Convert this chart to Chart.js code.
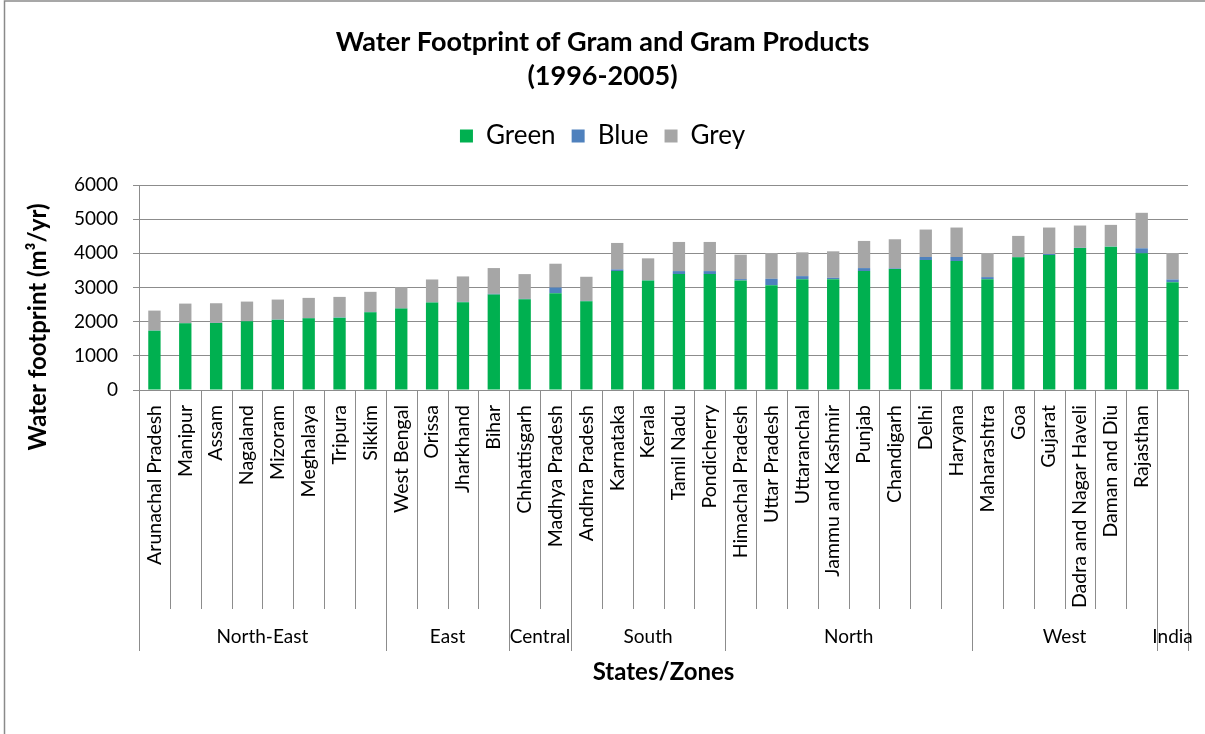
<!DOCTYPE html>
<html>
<head>
<meta charset="utf-8">
<title>Water Footprint of Gram and Gram Products</title>
<script src="https://cdn.jsdelivr.net/npm/chart.js@4.4.1/dist/chart.umd.min.js"></script>
<style>
  html, body { margin: 0; padding: 0; background: #ffffff; }
  #wrap { width: 1205px; height: 734px; position: relative; }
</style>
</head>
<body>
<div id="wrap"><canvas id="chart" width="1205" height="734"></canvas></div>
<script>
// States in zone order; the all-India bar carries no state name
const states = [
  'Arunachal Pradesh', 'Manipur', 'Assam', 'Nagaland', 'Mizoram', 'Meghalaya', 'Tripura', 'Sikkim',
  'West Bengal', 'Orissa', 'Jharkhand', 'Bihar',
  'Chhattisgarh', 'Madhya Pradesh',
  'Andhra Pradesh', 'Karnataka', 'Kerala', 'Tamil Nadu', 'Pondicherry',
  'Himachal Pradesh', 'Uttar Pradesh', 'Uttaranchal', 'Jammu and Kashmir', 'Punjab', 'Chandigarh', 'Delhi', 'Haryana',
  'Maharashtra', 'Goa', 'Gujarat', 'Dadra and Nagar Haveli', 'Daman and Diu', 'Rajasthan',
  ''
];

// Zones and how many states each one spans
const zones = ['North-East', 'East', 'Central', 'South', 'North', 'West', 'India'];
const zoneSizes = [8, 4, 2, 5, 8, 6, 1];

// Water footprint components (m3/yr)
const green = [
  1735, 1951, 1960, 2010, 2059, 2098, 2118, 2275,
  2382, 2559, 2569, 2794,
  2657, 2833,
  2598, 3480, 3206, 3392, 3392,
  3206, 3069, 3245, 3245, 3480, 3539, 3804, 3775,
  3245, 3882, 3951, 4157, 4196, 4000,
  3157
];
const blue = [
  5, 5, 5, 5, 5, 10, 10, 10,
  5, 5, 10, 20,
  10, 167,
  10, 50, 5, 88, 88,
  39, 186, 88, 39, 88, 20, 88, 118,
  59, 10, 29, 5, 5, 147,
  78
];
const grey = [
  584, 573, 574, 573, 583, 588, 597, 588,
  623, 671, 745, 755,
  725, 696,
  706, 774, 642, 853, 853,
  716, 755, 696, 775, 795, 853, 804, 862,
  706, 618, 775, 652, 632, 1039,
  775
];

const yTicks = [0, 1000, 2000, 3000, 4000, 5000, 6000];

const FONT = 'Lato, "Open Sans", sans-serif';
const LINE = '#8c8c8c';

// Leaves room between the legend row and the plot
const legendSpace = {
  id: 'legendSpace',
  beforeInit(chart) {
    const fit = chart.legend.fit;
    chart.legend.fit = function () {
      fit.call(this);
      this.height = 78;
    };
  }
};

// Outer frame, zone row under the state names and the two axis titles
const zoneAxis = {
  id: 'zoneAxis',
  beforeDraw(chart) {
    const ctx = chart.ctx;
    ctx.save();
    ctx.fillStyle = '#ffffff';
    ctx.fillRect(0, 0, chart.width, chart.height);
    ctx.strokeStyle = '#8a8a8a';
    ctx.lineWidth = 1.5;
    ctx.strokeRect(4.5, 1, chart.width + 20, chart.height + 20);
    ctx.restore();
  },
  afterDraw(chart) {
    const ctx = chart.ctx;
    const xs = chart.scales.x;
    const area = chart.chartArea;
    const half = (xs.getPixelForValue(1) - xs.getPixelForValue(0)) / 2;
    const edge = i => (i < states.length ? xs.getPixelForValue(i) - half : xs.getPixelForValue(states.length - 1) + half);

    const zoneEdges = new Set([0]);
    let acc = 0;
    zoneSizes.forEach(n => { acc += n; zoneEdges.add(acc); });

    ctx.save();
    ctx.strokeStyle = LINE;
    ctx.lineWidth = 1;
    for (let i = 0; i <= states.length; i++) {
      const px = Math.round(edge(i)) + 0.5;
      const bottom = zoneEdges.has(i) ? 651 : 609;
      ctx.beginPath();
      ctx.moveTo(px, area.bottom);
      ctx.lineTo(px, bottom);
      ctx.stroke();
    }

    ctx.fillStyle = '#000000';
    ctx.font = '19px ' + FONT;
    ctx.textAlign = 'center';
    ctx.textBaseline = 'middle';
    let start = 0;
    zones.forEach((z, k) => {
      const end = start + zoneSizes[k];
      ctx.fillText(z, (edge(start) + edge(end)) / 2, 637);
      start = end;
    });

    ctx.font = 'bold 24px ' + FONT;
    ctx.fillText('States/Zones', (area.left + area.right) / 2, 672);

    ctx.translate(38, 327);
    ctx.rotate(-Math.PI / 2);
    ctx.fillText('Water footprint (m\u00B3/yr)', 0, 0);
    ctx.restore();
  }
};

new Chart(document.getElementById('chart'), {
  type: 'bar',
  data: {
    labels: states,
    datasets: [
      { label: 'Green', data: green, backgroundColor: '#00b050' },
      { label: 'Blue', data: blue, backgroundColor: '#4f81bd' },
      { label: 'Grey', data: grey, backgroundColor: '#a6a6a6' }
    ]
  },
  options: {
    responsive: false,
    animation: false,
    devicePixelRatio: 1,
    layout: { padding: { left: 0, right: 0, top: 0, bottom: 0 } },
    datasets: { bar: { barPercentage: 0.4, categoryPercentage: 1, borderWidth: 0 } },
    plugins: {
      title: {
        display: true,
        text: ['Water Footprint of Gram and Gram Products', '(1996-2005)'],
        color: '#000000',
        font: { family: FONT, size: 27, weight: 'bold', lineHeight: '34px' },
        padding: { top: 25, bottom: 14 }
      },
      legend: {
        display: true,
        position: 'top',
        labels: {
          color: '#000000',
          boxWidth: 13,
          boxHeight: 13,
          padding: 16,
          font: { family: FONT, size: 26 }
        }
      },
      tooltip: { enabled: false }
    },
    scales: {
      x: {
        stacked: true,
        grid: { display: false },
        border: { display: true, color: LINE, width: 1 },
        ticks: {
          autoSkip: false,
          maxRotation: 90,
          minRotation: 90,
          padding: 7,
          color: '#000000',
          font: { family: FONT, size: 19.5 }
        },
        afterFit(scale) { scale.height = 344; }
      },
      y: {
        stacked: true,
        min: 0,
        max: 6000,
        afterBuildTicks(scale) { scale.ticks = yTicks.map(v => ({ value: v })); },
        grid: { color: LINE, lineWidth: 1, tickLength: 6, drawTicks: true },
        border: { display: true, color: LINE, width: 1 },
        ticks: {
          padding: 15,
          color: '#000000',
          font: { family: FONT, size: 19 },
          callback: v => String(v)
        },
        afterFit(scale) { scale.width = 139; }
      },
      // blank strip that keeps the plot clear of the right edge
      gutter: {
        type: 'linear',
        position: 'right',
        display: true,
        grid: { display: false },
        border: { display: false },
        ticks: { display: false },
        afterFit(scale) { scale.width = 17; }
      }
    }
  },
  plugins: [legendSpace, zoneAxis]
});
</script>
</body>
</html>
